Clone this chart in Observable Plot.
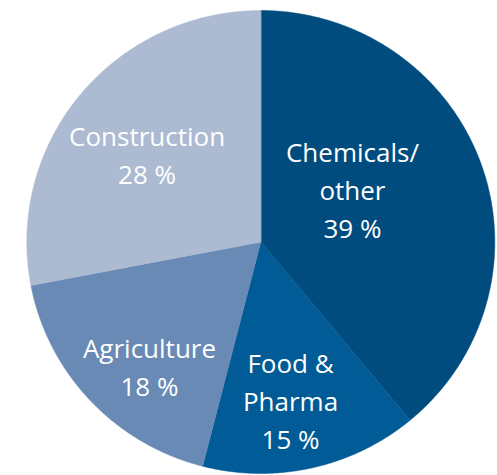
<!DOCTYPE html>
<html>
<head>
<meta charset="utf-8">
<script src="https://cdn.jsdelivr.net/npm/d3@7"></script>
<script src="https://cdn.jsdelivr.net/npm/@observablehq/plot@0.6"></script>
<style>
  html, body { margin: 0; padding: 0; background: #ffffff; }
  #chart svg { display: block; }
</style>
</head>
<body>
<div id="chart"></div>
<script>
// ---- data ----
const categories = ["Chemicals/\nother", "Food &\nPharma", "Agriculture", "Construction"];
const shares = [39, 15, 18, 28];
const shareLabels = ["39 %", "15 %", "18 %", "28 %"];

// ---- styling / layout (not data) ----
const palette = ["#004c7e", "#005b96", "#698ab5", "#acbad2"];
// label placement: fraction of radius and angular shift (degrees) from slice mid-angle
const labelRadius = [0.457, 0.691, 0.713, 0.621];
const labelShift = [-11.2, 2.0, -4.95, -1.1];
// pie frame (slightly elliptical like the reference)
const pie = {cx: 260.3, cy: 241.5, rx: 234, ry: 231.5};

const arcs = d3.pie().sort(null).value(d => d)(shares);
const pt = a => [Math.sin(a), -Math.cos(a)];

const slices = arcs.map((a, i) => {
  const ring = [[0, 0]];
  const n = Math.max(2, Math.ceil((a.endAngle - a.startAngle) / (Math.PI / 720)));
  for (let k = 0; k <= n; k++) ring.push(pt(a.startAngle + (a.endAngle - a.startAngle) * k / n));
  ring.push([0, 0]);
  return {type: "Feature", properties: {name: categories[i], color: palette[i]}, geometry: {type: "Polygon", coordinates: [ring]}};
});

const labels = arcs.map((a, i) => {
  const mid = (a.startAngle + a.endAngle) / 2 + labelShift[i] * Math.PI / 180;
  const [x, y] = pt(mid).map(v => v * labelRadius[i]);
  return {x, y, text: categories[i] + "\n" + shareLabels[i]};
});

const ellipse = d3.geoTransform({
  point(x, y) { this.stream.point(pie.cx + pie.rx * x, pie.cy + pie.ry * y); }
});

const chart = Plot.plot({
  width: 497,
  height: 475,
  margin: 0,
  projection: ellipse,
  marks: [
    Plot.geo(slices, {fill: d => d.properties.color, stroke: d => d.properties.color, strokeWidth: 0.5}),
    Plot.text(labels, {
      x: "x", y: "y", text: "text",
      fill: "white",
      fontSize: 26,
      fontFamily: "Open Sans",
      lineHeight: 1.46,
      textAnchor: "middle",
      lineAnchor: "middle"
    })
  ]
});
document.getElementById("chart").appendChild(chart);
</script>
</body>
</html>
